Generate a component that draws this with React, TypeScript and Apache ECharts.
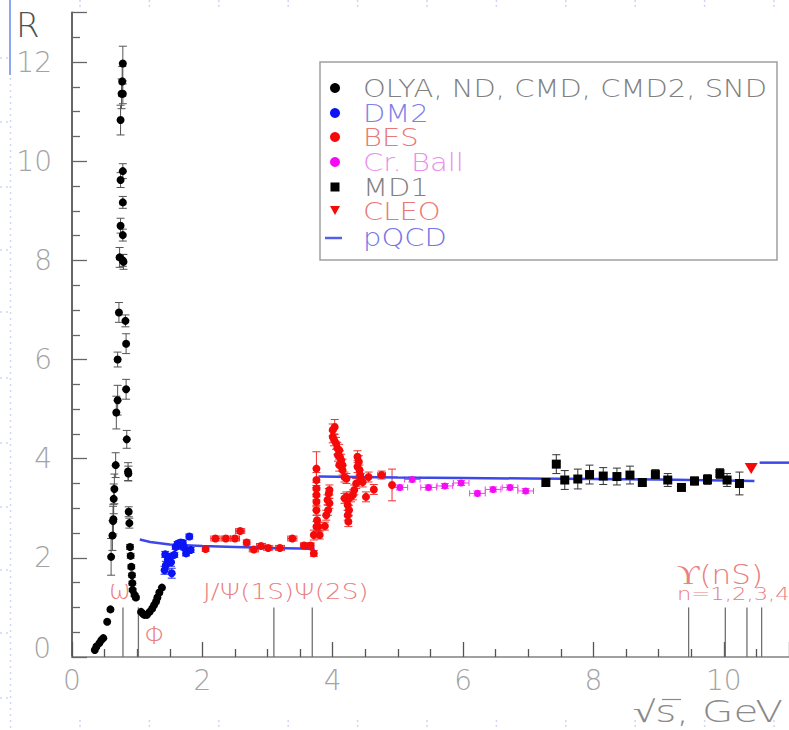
import React, { useEffect, useRef } from "react";
import * as echarts from "echarts";

// [sqrt(s) GeV, R, errR]
const olyaData = [
  [0.35, 0.14, 0], [0.375, 0.21, 0], [0.42, 0.28, 0], [0.45, 0.34, 0], [0.48, 0.38, 0],
  [0.54, 0.71, 0], [0.59, 0.96, 0],
  [0.6, 2.02, 0.37], [0.62, 2.45, 0.3], [0.63, 2.74, 0.3], [0.635, 2.78, 0.3], [0.64, 3.19, 0.3],
  [0.65, 3.39, 0.3], [0.67, 3.87, 0.25], [0.68, 4.93, 0.33], [0.7, 5.18, 0.3], [0.7, 6.0, 0.15],
  [0.72, 6.95, 0.2], [0.73, 8.06, 0.2], [0.745, 8.7, 0.15], [0.745, 9.62, 0.15], [0.745, 10.83, 0.3],
  [0.76, 11.36, 0.3], [0.77, 11.61, 0.3], [0.78, 11.97, 0.35], [0.78, 11.36, 0.2], [0.78, 9.8, 0.15],
  [0.78, 9.17, 0.12], [0.78, 8.51, 0.12], [0.79, 7.97, 0.15], [0.78, 8.0, 0.12],
  [0.82, 6.78, 0.12], [0.83, 6.32, 0.2], [0.83, 5.4, 0.2], [0.84, 4.39, 0.18], [0.86, 3.74, 0.18],
  [0.865, 3.7, 0.15], [0.87, 2.93, 0.1], [0.88, 2.7, 0.1], [0.89, 2.22, 0.05], [0.9, 2.04, 0.05],
  [0.91, 1.82, 0.04], [0.92, 1.65, 0.04], [0.925, 1.49, 0.04], [0.93, 1.35, 0.03], [0.96, 1.25, 0.03],
  [0.98, 1.2, 0.03],
  [1.06, 0.91, 0], [1.09, 0.87, 0], [1.11, 0.85, 0], [1.15, 0.85, 0], [1.19, 0.91, 0], [1.23, 0.98, 0],
  [1.26, 1.05, 0], [1.29, 1.12, 0], [1.31, 1.2, 0], [1.34, 1.3, 0], [1.38, 1.4, 0],
];

const dm2Data = [
  [1.42, 1.75, 0.08], [1.43, 2.07, 0.06], [1.44, 1.85, 0.08], [1.47, 1.96, 0.08], [1.49, 2.02, 0.06],
  [1.52, 1.91, 0.08], [1.53, 1.69, 0.1], [1.57, 2.06, 0.05], [1.59, 2.22, 0.05], [1.62, 2.28, 0.05],
  [1.64, 2.29, 0.05], [1.65, 2.25, 0.05], [1.67, 2.31, 0.05], [1.69, 2.26, 0.05], [1.7, 2.3, 0.05],
  [1.72, 2.21, 0.05], [1.75, 2.09, 0.05], [1.8, 2.43, 0.05], [1.82, 2.16, 0.05],
];

// [sqrt(s), R, errR, errX]
const besData = [
  [2.05, 2.18, 0.05, 0], [2.2, 2.39, 0.05, 0.07], [2.36, 2.39, 0.05, 0.07], [2.5, 2.39, 0.05, 0.07],
  [2.58, 2.54, 0.05, 0.07], [2.68, 2.31, 0.05, 0], [2.79, 2.17, 0.05, 0.07], [2.9, 2.24, 0.05, 0.07],
  [3.01, 2.2, 0.05, 0.07], [3.19, 2.2, 0.05, 0.07], [3.38, 2.39, 0.05, 0.07], [3.56, 2.25, 0.05, 0.05],
  [3.66, 2.25, 0.05, 0.05], [3.71, 2.09, 0.06, 0],
  [3.71, 2.46, 0.1, 0], [3.75, 2.63, 0.1, 0], [3.76, 2.76, 0.1, 0], [3.75, 2.96, 0.1, 0],
  [3.75, 3.13, 0.1, 0], [3.75, 3.27, 0.1, 0], [3.75, 3.4, 0.12, 0], [3.75, 3.57, 0.15, 0],
  [3.75, 3.8, 0.34, 0], [3.78, 2.63, 0.08, 0], [3.8, 2.46, 0.08, 0], [3.88, 2.64, 0.08, 0],
  [3.9, 2.86, 0.1, 0], [3.93, 2.96, 0.1, 0], [3.92, 3.17, 0.1, 0], [3.95, 3.1, 0.1, 0],
  [3.94, 3.3, 0.1, 0], [3.95, 3.37, 0.1, 0],
  [4.0, 4.58, 0.12, 0], [4.03, 4.64, 0.15, 0], [4.0, 4.44, 0.12, 0], [4.02, 4.38, 0.12, 0],
  [4.05, 4.31, 0.12, 0], [4.07, 4.21, 0.12, 0], [4.1, 4.17, 0.12, 0], [4.08, 4.07, 0.12, 0],
  [4.11, 4.04, 0.12, 0], [4.13, 3.97, 0.12, 0], [4.1, 3.87, 0.12, 0], [4.15, 3.87, 0.12, 0],
  [4.15, 3.77, 0.1, 0], [4.18, 3.63, 0.1, 0], [4.21, 3.6, 0.1, 0],
  [4.18, 3.2, 0.1, 0], [4.21, 3.23, 0.1, 0], [4.23, 3.17, 0.1, 0], [4.23, 3.06, 0.1, 0],
  [4.25, 2.96, 0.1, 0], [4.23, 2.86, 0.1, 0], [4.24, 2.73, 0.1, 0], [4.28, 3.23, 0.1, 0],
  [4.31, 3.27, 0.1, 0], [4.33, 3.37, 0.1, 0], [4.36, 3.5, 0.1, 0],
  [4.38, 4.04, 0.12, 0], [4.4, 3.94, 0.12, 0], [4.38, 3.84, 0.12, 0], [4.41, 3.77, 0.1, 0],
  [4.42, 3.67, 0.1, 0], [4.43, 3.6, 0.1, 0], [4.46, 3.53, 0.1, 0], [4.51, 3.23, 0.1, 0],
  [4.55, 3.63, 0.1, 0], [4.63, 3.38, 0.1, 0], [4.75, 3.67, 0.08, 0.06], [4.91, 3.47, 0.32, 0],
];

const crBallData = [
  [5.03, 3.42, 0.05, 0.12], [5.22, 3.58, 0.05, 0.12], [5.47, 3.42, 0.05, 0.12], [5.72, 3.45, 0.05, 0.12],
  [5.97, 3.51, 0.05, 0.12], [6.22, 3.3, 0.05, 0.12], [6.46, 3.38, 0.05, 0.12], [6.72, 3.42, 0.05, 0.12],
  [6.96, 3.35, 0.05, 0.12],
];

const md1Data = [
  [7.27, 3.52, 0.08], [7.43, 3.89, 0.19], [7.56, 3.57, 0.19], [7.76, 3.59, 0.2], [7.94, 3.68, 0.19],
  [8.15, 3.65, 0.17], [8.36, 3.64, 0.17], [8.56, 3.67, 0.18], [8.75, 3.52, 0.05], [8.95, 3.68, 0.1],
  [9.14, 3.57, 0.13], [9.35, 3.42, 0.05], [9.55, 3.55, 0.08], [9.75, 3.58, 0.1], [9.94, 3.7, 0.1],
  [10.05, 3.57, 0.13], [10.24, 3.5, 0.23],
];

const cleoData = [[10.42, 3.8]];

const pqcdLow = [[1.04, 2.37], [1.2, 2.32], [1.5, 2.27], [2.0, 2.24], [2.5, 2.22], [3.0, 2.2], [3.5, 2.19], [3.72, 2.18]];
const pqcdMid = [[3.78, 3.64], [5.0, 3.62], [6.0, 3.61], [7.0, 3.6], [8.0, 3.59], [9.0, 3.58], [10.0, 3.56], [10.47, 3.55]];
const pqcdHigh = [[10.55, 3.92], [11.0, 3.92]];

// omega, phi, J/psi, psi(2S), Upsilon(1S..4S)
const resonanceMasses = [0.782, 1.019, 3.097, 3.686, 9.46, 10.023, 10.355, 10.58];
const resonanceTop = 1.0;

const legendNames = ["OLYA, ND, CMD, CMD2, SND", "DM2", "BES", "Cr. Ball", "MD1", "CLEO", "pQCD"];
const legendTextColors = ["#808080", "#7f7fe8", "#ea7878", "#ea90ea", "#808080", "#ea7878", "#7474e4"];

const FONT = "DejaVu Sans";
const THIN = `200`;

function errorSeries(name: string, data: number[][], color: string) {
  return {
    type: "custom",
    name: name + " err",
    z: 1,
    silent: true,
    data: data.map((d) => [d[0], d[1], d[2] || 0, d[3] || 0]),
    encode: { x: 0, y: 1 },
    renderItem: (params: any, api: any) => {
      const x = api.value(0);
      const y = api.value(1);
      const ey = api.value(2);
      const ex = api.value(3);
      const children: any[] = [];
      const st = { stroke: color, lineWidth: 1 };
      if (ey > 0) {
        const t = api.coord([x, y + ey]);
        const b = api.coord([x, y - ey]);
        children.push({ type: "line", shape: { x1: t[0], y1: t[1], x2: b[0], y2: b[1] }, style: st });
        children.push({ type: "line", shape: { x1: t[0] - 4, y1: t[1], x2: t[0] + 4, y2: t[1] }, style: st });
        children.push({ type: "line", shape: { x1: b[0] - 4, y1: b[1], x2: b[0] + 4, y2: b[1] }, style: st });
      }
      if (ex > 0) {
        const l = api.coord([x - ex, y]);
        const r = api.coord([x + ex, y]);
        children.push({ type: "line", shape: { x1: l[0], y1: l[1], x2: r[0], y2: r[1] }, style: st });
        children.push({ type: "line", shape: { x1: l[0], y1: l[1] - 3, x2: l[0], y2: l[1] + 3 }, style: st });
        children.push({ type: "line", shape: { x1: r[0], y1: r[1] - 3, x2: r[0], y2: r[1] + 3 }, style: st });
      }
      return { type: "group", children };
    },
  };
}

function scatterSeries(name: string, data: number[][], color: string, symbol: string, size: any, rotate = 0) {
  return {
    type: "scatter",
    name,
    z: 3,
    symbol,
    symbolSize: size,
    symbolRotate: rotate,
    itemStyle: { color, opacity: 1 },
    data: data.map((d) => [d[0], d[1]]),
  };
}

function pqcdSeries(data: number[][]) {
  return {
    type: "line",
    name: "pQCD",
    z: 2,
    showSymbol: false,
    symbol: "none",
    lineStyle: { color: "#3d48e8", width: 2.5 },
    data,
  };
}

function buildGraphics() {
  const g: any[] = [];
  // slide decorations
  g.push({ type: "line", shape: { x1: 10, y1: 0, x2: 10, y2: 75 }, style: { stroke: "#8ea6f0", lineWidth: 2 } });
  g.push({ type: "line", shape: { x1: 10.5, y1: 78, x2: 10.5, y2: 730 }, style: { stroke: "#cdd8f6", lineWidth: 1.5, lineDash: [2, 4] } });
  [58, 122, 187, 250, 312, 378, 443, 507, 570, 633, 698].forEach((y) => {
    g.push({ type: "line", shape: { x1: 0, y1: y, x2: 9, y2: y }, style: { stroke: "#cdd8f6", lineWidth: 1.5, lineDash: [2, 4] } });
  });
  for (let i = 0; i < 11; i++) {
    const x = 80 + i * 69.4;
    g.push({ type: "line", shape: { x1: x, y1: 720, x2: x, y2: 729 }, style: { stroke: "#cdd8f6", lineWidth: 1.5, lineDash: [2, 3] } });
    g.push({ type: "line", shape: { x1: x, y1: 0, x2: x, y2: 9 }, style: { stroke: "#cdd8f6", lineWidth: 1.5, lineDash: [2, 3] } });
  }
  // legend box
  g.push({ type: "rect", shape: { x: 320, y: 62, width: 457, height: 198 }, style: { fill: "#fff", stroke: "#a0a0a0", lineWidth: 1.5 }, z: 10 });
  const rows = [88, 113, 137, 162, 187, 211, 237];
  g.push({ type: "circle", shape: { cx: 335, cy: rows[0], r: 5 }, style: { fill: "#000" }, z: 11 });
  g.push({ type: "circle", shape: { cx: 335, cy: rows[1], r: 5 }, style: { fill: "#0a14f5" }, z: 11 });
  g.push({ type: "circle", shape: { cx: 335, cy: rows[2], r: 5 }, style: { fill: "#f50a0a" }, z: 11 });
  g.push({ type: "circle", shape: { cx: 335, cy: rows[3], r: 5 }, style: { fill: "#f50af5" }, z: 11 });
  g.push({ type: "rect", shape: { x: 330.5, y: rows[4] - 4.5, width: 9, height: 9 }, style: { fill: "#000" }, z: 11 });
  g.push({ type: "polygon", shape: { points: [[330, rows[5] - 5], [340, rows[5] - 5], [335, rows[5] + 4]] }, style: { fill: "#f50a0a" }, z: 11 });
  g.push({ type: "line", shape: { x1: 325, y1: rows[6] + 1, x2: 342, y2: rows[6] + 1 }, style: { stroke: "#5560e8", lineWidth: 2.5 }, z: 11 });
  legendNames.forEach((n, i) => {
    g.push({
      type: "text", x: 363, y: rows[i], scaleX: 1.16, z: 11,
      style: { text: n, fill: legendTextColors[i], font: `${THIN} 25px "${FONT}"`, textAlign: "left", textVerticalAlign: "middle" },
    });
  });
  // resonance labels
  const rc = "#e88080";
  g.push({ type: "text", x: 120, y: 590, style: { text: "ω", fill: rc, font: `${THIN} 26px "${FONT}"`, textAlign: "center", textVerticalAlign: "middle" } });
  g.push({ type: "text", x: 155, y: 635, style: { text: "Φ", fill: rc, font: `${THIN} 25px "${FONT}"`, textAlign: "center", textVerticalAlign: "middle" } });
  g.push({ type: "text", x: 203, y: 592, scaleX: 1.25, style: { text: "J/Ψ(1S)Ψ(2S)", fill: rc, font: `${THIN} 21px "${FONT}"`, textAlign: "left", textVerticalAlign: "middle" } });
  g.push({ type: "text", x: 677, y: 575, scaleX: 1.15, style: { text: "ϒ(nS)", fill: rc, font: `${THIN} 27px "${FONT}"`, textAlign: "left", textVerticalAlign: "middle" } });
  g.push({ type: "text", x: 677, y: 594, scaleX: 1.26, style: { text: "n=1,2,3,4", fill: rc, font: `${THIN} 18px "${FONT}"`, textAlign: "left", textVerticalAlign: "middle" } });
  // axis titles
  g.push({ type: "text", x: 16, y: 25, style: { text: "R", fill: "#505050", font: `${THIN} 34px "${FONT}"`, textAlign: "left", textVerticalAlign: "middle" } });
  g.push({ type: "text", x: 633, y: 711, scaleX: 1.35, style: { text: "√s, GeV", fill: "#8a8a8a", font: `${THIN} 30px "${FONT}"`, textAlign: "left", textVerticalAlign: "middle" } });
  g.push({ type: "line", shape: { x1: 662, y1: 699.5, x2: 681, y2: 699.5 }, style: { stroke: "#8a8a8a", lineWidth: 1.2 } });
  // y-axis "0" label, lifted above the x-axis "0" as in the original
  g.push({ type: "text", x: 51, y: 648, style: { text: "0", fill: "#a3a3a3", font: `${THIN} 28px "${FONT}"`, textAlign: "right", textVerticalAlign: "middle" } });
  return g;
}

export default function App() {
  const ref = useRef<HTMLDivElement>(null);
  useEffect(() => {
    if (!ref.current) return;
    const chart = echarts.init(ref.current, undefined, { renderer: "svg" });
    const axisLabel = { fontFamily: FONT, fontWeight: 200, fontSize: 28, color: "#a3a3a3" };
    chart.setOption({
      animation: false,
      backgroundColor: "#ffffff",
      grid: { left: 72, right: -1.3, top: 12.5, bottom: 73, containLabel: false },
      xAxis: [
        {
          type: "value", min: 0, max: 11, interval: 2,
          axisLine: { onZero: false, lineStyle: { color: "#555", width: 2 } },
          axisTick: { inside: true, length: 15, lineStyle: { color: "#555", width: 1.3 } },
          minorTick: { show: true, splitNumber: 4, length: 8, lineStyle: { color: "#555", width: 1.3 } },
          axisLabel: { ...axisLabel, margin: 9, showMaxLabel: false },
          splitLine: { show: false },
        },
        {
          type: "value", position: "top", min: 0, max: 11,
          axisLine: { show: true, lineStyle: { color: "#a0a0a0", width: 2 } },
          axisTick: { show: false }, axisLabel: { show: false }, splitLine: { show: false },
        },
      ],
      yAxis: {
        type: "value", min: 0, max: 13, interval: 2,
        axisLine: { show: true, onZero: false, lineStyle: { color: "#666", width: 2 } },
        axisTick: { inside: true, length: 15, lineStyle: { color: "#666", width: 1.3 } },
        minorTick: { show: true, splitNumber: 4, length: 8, lineStyle: { color: "#666", width: 1.3 } },
        axisLabel: { ...axisLabel, margin: 20, showMaxLabel: false, formatter: (v: number) => (v === 0 ? "" : String(v)) },
        splitLine: { show: false },
      },
      series: [
        {
          type: "custom",
          name: "resonances",
          z: 1,
          silent: true,
          data: resonanceMasses.map((m) => [m, resonanceTop]),
          encode: { x: 0, y: 1 },
          renderItem: (params: any, api: any) => {
            const m = api.value(0);
            const a = api.coord([m, 0]);
            const b = api.coord([m, api.value(1)]);
            return { type: "line", shape: { x1: a[0], y1: a[1], x2: b[0], y2: b[1] }, style: { stroke: "#707070", lineWidth: 1.3 } };
          },
        },
        errorSeries("OLYA", olyaData, "#555"),
        errorSeries("DM2", dm2Data, "#2030f0"),
        errorSeries("BES", besData, "#f03030"),
        errorSeries("Cr. Ball", crBallData, "#f040f0"),
        errorSeries("MD1", md1Data, "#333"),
        pqcdSeries(pqcdLow),
        pqcdSeries(pqcdMid),
        pqcdSeries(pqcdHigh),
        scatterSeries("OLYA, ND, CMD, CMD2, SND", olyaData, "#000", "circle", 8),
        scatterSeries("DM2", dm2Data, "#0a14f5", "circle", 8),
        scatterSeries("BES", besData, "#f50a0a", "circle", 8),
        scatterSeries("Cr. Ball", crBallData, "#f50af5", "circle", 7),
        scatterSeries("MD1", md1Data, "#000", "rect", 9),
        scatterSeries("CLEO", cleoData, "#f50a0a", "triangle", [13, 11], 180),
      ],
      graphic: { elements: buildGraphics() },
    });
    return () => chart.dispose();
  }, []);
  return <div ref={ref} style={{ position: "fixed", left: 0, top: 0, width: 789, height: 730 }} />;
}
